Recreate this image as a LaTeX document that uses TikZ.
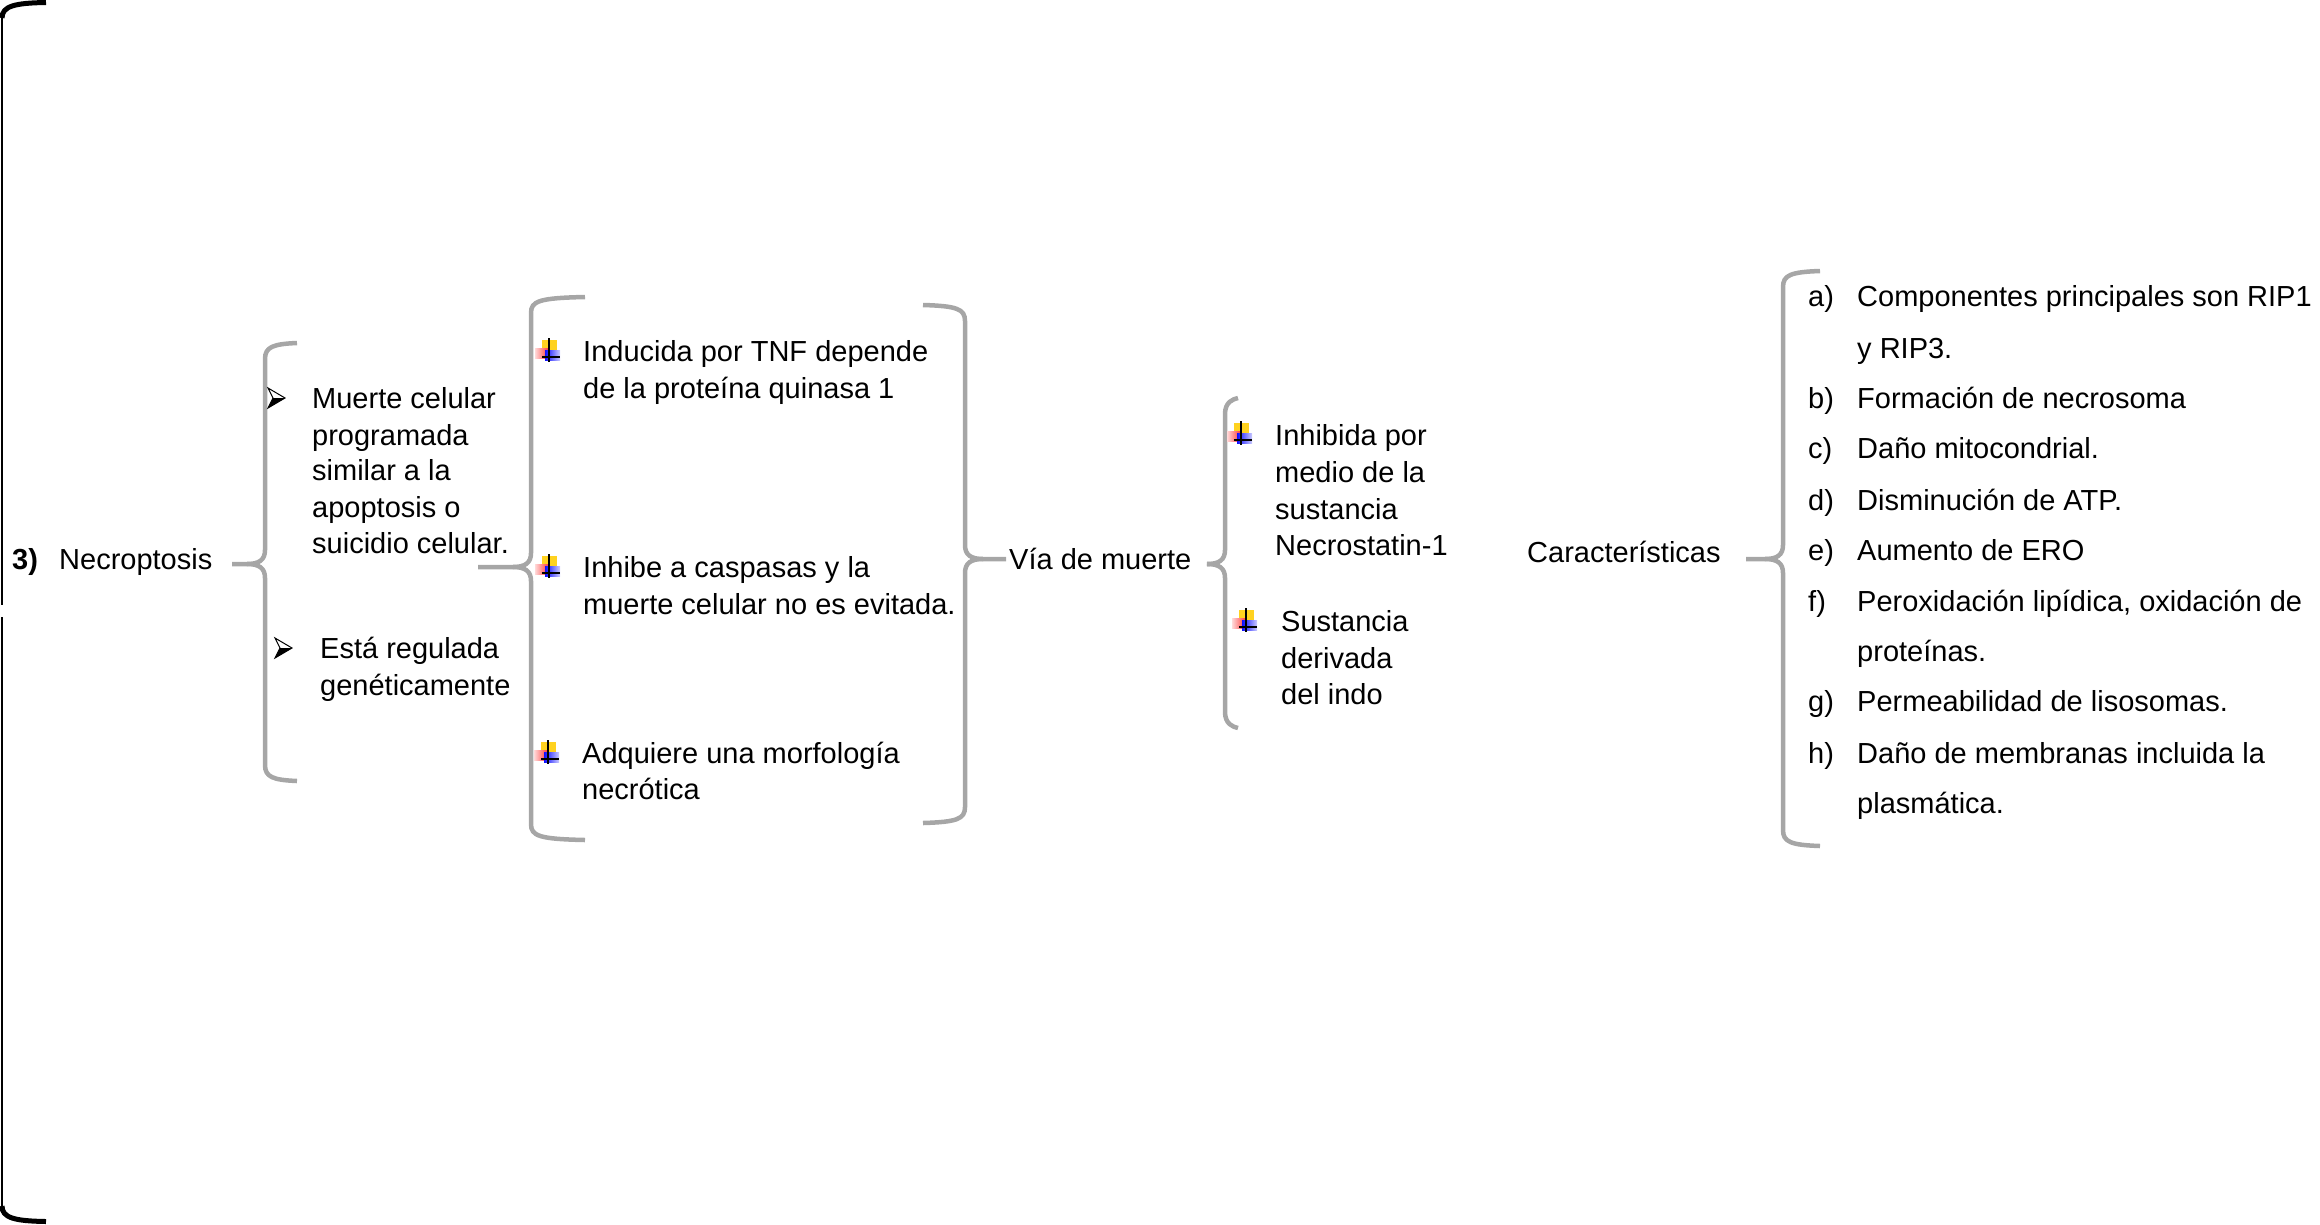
\documentclass[tikz,border=0pt]{standalone}
\usepackage{fontspec}
\setmainfont{Liberation Sans}
\definecolor{bracegray}{HTML}{A6A6A6}
\definecolor{iconyellow}{HTML}{FFD21F}
\newcommand{\BraceL}[6]{%
  \draw[bracestyle] (#2,#3) .. controls ({#1+8},{#3+1}) and (#1,{#3+4}) .. (#1,{#3+16}) -- (#1,{#6-14}) .. controls (#1,{#6-4}) and ({#1-6},#6) .. ({#1-18},#6) -- (#5,#6);
  \draw[bracestyle] (#2,#4) .. controls ({#1+8},{#4-1}) and (#1,{#4-4}) .. (#1,{#4-16}) -- (#1,{#6+14}) .. controls (#1,{#6+4}) and ({#1-6},#6) .. ({#1-18},#6);
}
\newcommand{\BraceR}[6]{%
  \draw[bracestyle] (#2,#3) .. controls ({#1-8},{#3+1}) and (#1,{#3+4}) .. (#1,{#3+16}) -- (#1,{#6-14}) .. controls (#1,{#6-4}) and ({#1+6},#6) .. ({#1+18},#6) -- (#5,#6);
  \draw[bracestyle] (#2,#4) .. controls ({#1-8},{#4-1}) and (#1,{#4-4}) .. (#1,{#4-16}) -- (#1,{#6+14}) .. controls (#1,{#6+4}) and ({#1+6},#6) .. ({#1+18},#6);
}
\tikzset{
  bracestyle/.style={draw=bracegray, line width=4.5pt},
  txt/.style={anchor=base west, inner sep=0pt, font=\fontsize{29}{36}\selectfont},
  plusicon/.pic={
    \fill[iconyellow] (-5,-11) rectangle (10,-1);
    \shade[left color=red!15, right color=red!75] (-12,-3) rectangle (1,7);
    \shade[left color=blue!95, right color=blue!20] (-2,-1) rectangle (13,9);
    \draw[line width=1.5pt] (2,-13) -- (2,11);
    \draw[line width=1.5pt] (-5,6) -- (13,6);
  },
  arrowbullet/.pic={
    \draw[line width=1pt, fill=white, line join=miter] (9,0) -- (-8,-10) -- (-3,0) -- (-8,10) -- cycle;
    \fill (9,0) -- (-3,0) -- (-8,10) -- cycle;
  }
}
\begin{document}
\begin{tikzpicture}[x=1pt,y=-1pt]
\useasboundingbox (0,0) rectangle (2320,1224);
% big black bracket
\draw[line width=2pt] (1.5,14) -- (1.5,605);
\draw[line width=2pt] (1.5,617) -- (1.5,1210);
\draw[line width=5pt] (2,18) .. controls (2,6) and (15,3) .. (46,2.5);
\draw[line width=5pt] (2,1206) .. controls (2,1218) and (15,1221) .. (46,1221.5);

% left titles
\node[txt, font=\fontsize{29}{36}\selectfont\bfseries] (num) at (12,569) {3)};
\node[txt] (necro) at (59,569) {Necroptosis};

% brace 1
\BraceL{265}{297}{343}{781}{232}{564}
\pic at (276,398) {arrowbullet};
\node[txt] (m1) at (312,408) {Muerte celular};
\node[txt] (m2) at (312,445) {programada};
\node[txt] (m3) at (312,480) {similar a la};
\node[txt] (m4) at (312,517) {apoptosis o};
\node[txt] (m5) at (312,553) {suicidio celular.};
\pic at (283,648) {arrowbullet};
\node[txt] (r1) at (320,658) {Está regulada};
\node[txt] (r2) at (320,695) {genéticamente};

% brace 2 and 3
\BraceL{531}{585}{297}{840}{478}{567}
\BraceR{965}{923}{305}{823}{1006}{559}
\pic at (547,351) {plusicon};
\node[txt] (i1) at (583,361) {Inducida por TNF depende};
\node[txt] (i2) at (583,398) {de la proteína quinasa 1};
\pic at (547,567) {plusicon};
\node[txt] (h1) at (583,577) {Inhibe a caspasas y la};
\node[txt] (h2) at (583,614) {muerte celular no es evitada.};
\pic at (546,753) {plusicon};
\node[txt] (a1) at (582,763) {Adquiere una morfología};
\node[txt] (a2) at (582,799) {necrótica};

\node[txt] (via) at (1009,569) {Vía de muerte};

% brace 4
\BraceL{1225}{1238}{398}{728}{1210}{564}
\pic at (1239,434) {plusicon};
\node[txt] (n1) at (1275,445) {Inhibida por};
\node[txt] (n2) at (1275,482) {medio de la};
\node[txt] (n3) at (1275,519) {sustancia};
\node[txt] (n4) at (1275,555) {Necrostatin-1};
\pic at (1244,621) {plusicon};
\node[txt] (s1) at (1281,631) {Sustancia};
\node[txt] (s2) at (1281,668) {derivada};
\node[txt] (s3) at (1281,704) {del indo};

\node[txt] (car) at (1527,562) {Características};

% brace 5
\BraceL{1783}{1820}{271}{846}{1746}{559}
\node[txt] (la) at (1808,306) {a)};
\node[txt] (ta1) at (1857,306) {Componentes principales son RIP1};
\node[txt] (ta2) at (1857,358) {y RIP3.};
\node[txt] (lb) at (1808,408) {b)};
\node[txt] (tb) at (1857,408) {Formación de necrosoma};
\node[txt] (lc) at (1808,458) {c)};
\node[txt] (tc) at (1857,458) {Daño mitocondrial.};
\node[txt] (ld) at (1808,510) {d)};
\node[txt] (td) at (1857,510) {Disminución de ATP.};
\node[txt] (le) at (1808,560) {e)};
\node[txt] (te) at (1857,560) {Aumento de ERO};
\node[txt] (lf) at (1808,611) {f)};
\node[txt] (tf1) at (1857,611) {Peroxidación lipídica, oxidación de};
\node[txt] (tf2) at (1857,661) {proteínas.};
\node[txt] (lg) at (1808,711) {g)};
\node[txt] (tg) at (1857,711) {Permeabilidad de lisosomas.};
\node[txt] (lh) at (1808,763) {h)};
\node[txt] (th1) at (1857,763) {Daño de membranas incluida la};
\node[txt] (th2) at (1857,813) {plasmática.};
\end{tikzpicture}
\end{document}
